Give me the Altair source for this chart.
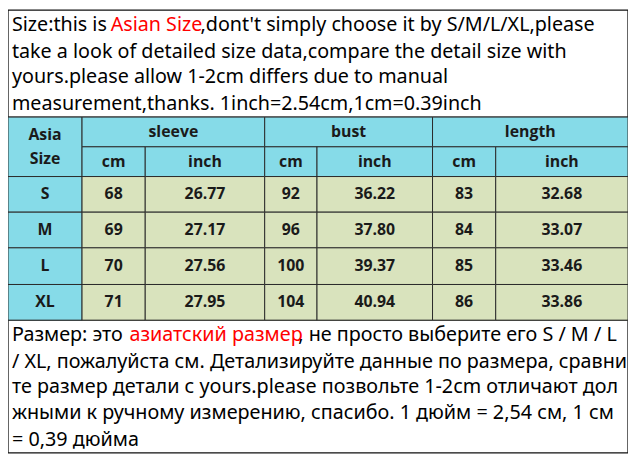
import altair as alt
import pandas as pd

# ---- data ----
sizes = ["S", "M", "L", "XL"]
sleeve_cm = ["68", "69", "70", "71"]
sleeve_inch = ["26.77", "27.17", "27.56", "27.95"]
bust_cm = ["92", "96", "100", "104"]
bust_inch = ["36.22", "37.80", "39.37", "40.94"]
length_cm = ["83", "84", "85", "86"]
length_inch = ["32.68", "33.07", "33.46", "33.86"]
groups = ["sleeve", "bust", "length"]
units = ["cm", "inch"]

top_lines = [
    [("Size:this is", "black"), ("Asian Size", "red"), (",dont't simply choose it by S/M/L/XL,please", "black")],
    [("take a look of detailed size data,compare the detail size with", "black")],
    [("yours.please allow 1-2cm differs due to manual", "black")],
    [("measurement,thanks. 1inch=2.54cm,1cm=0.39inch", "black")],
]
bottom_lines = [
    [("Размер: это", "black"), ("азиатский размер", "red"), (", не просто выберите его S / M / L", "black")],
    [("/ XL, пожалуйста см. Детализируйте данные по размера, сравни", "black")],
    [("те размер детали с yours.please позвольте 1-2cm отличают дол", "black")],
    [("жными к ручному измерению, спасибо. 1 дюйм = 2,54 см, 1 см", "black")],
    [("= 0,39 дюйма", "black")],
]

# ---- layout (reference pixel grid) ----
col_edges = [4, 79, 143, 264, 317, 434, 498, 632]
row_edges = [113, 143, 173, 209, 245, 282, 318]
top_box = (4, 5, 632, 113)
bottom_box = (4, 318, 632, 452)
top_line_y = [20, 47, 73, 100]
bottom_line_y = [333, 360, 386, 412, 439]
top_seg_x = [[8, 108, 199], [8], [8], [8]]
bottom_seg_x = [[8, 127, 298], [8], [8], [8], [8]]

CYAN = "#86dbe8"
GREEN = "#d9e3bd"

cells = []
texts = []
# Asia Size header
cells.append(dict(x=col_edges[0], x2=col_edges[1], y=row_edges[0], y2=row_edges[2], fill=CYAN))
texts.append(dict(x=(col_edges[0] + col_edges[1]) / 2, y=131, t="Asia"))
texts.append(dict(x=(col_edges[0] + col_edges[1]) / 2, y=155, t="Size"))
for g, name in enumerate(groups):
    a, b = col_edges[1 + 2 * g], col_edges[3 + 2 * g]
    cells.append(dict(x=a, x2=b, y=row_edges[0], y2=row_edges[1], fill=CYAN))
    texts.append(dict(x=(a + b) / 2, y=(row_edges[0] + row_edges[1]) / 2, t=name))
    for u, un in enumerate(units):
        c, d = col_edges[1 + 2 * g + u], col_edges[2 + 2 * g + u]
        cells.append(dict(x=c, x2=d, y=row_edges[1], y2=row_edges[2], fill=CYAN))
        texts.append(dict(x=(c + d) / 2, y=(row_edges[1] + row_edges[2]) / 2, t=un))
columns = [sizes, sleeve_cm, sleeve_inch, bust_cm, bust_inch, length_cm, length_inch]
for ci, col in enumerate(columns):
    for ri, val in enumerate(col):
        c, d = col_edges[ci], col_edges[ci + 1]
        e, f = row_edges[2 + ri], row_edges[3 + ri]
        cells.append(dict(x=c, x2=d, y=e, y2=f, fill=CYAN if ci == 0 else GREEN))
        texts.append(dict(x=(c + d) / 2, y=(e + f) / 2, t=val))

cells_df = pd.DataFrame(cells)
texts_df = pd.DataFrame(texts)

boxes_df = pd.DataFrame([
    dict(x=top_box[0], y=top_box[1], x2=top_box[2], y2=top_box[3]),
    dict(x=bottom_box[0], y=bottom_box[1], x2=bottom_box[2], y2=bottom_box[3]),
])

para = []
for lines, ys, xs, fs in ((top_lines, top_line_y, top_seg_x, 19.9), (bottom_lines, bottom_line_y, bottom_seg_x, 19.95)):
    for li, segs in enumerate(lines):
        for si, (t, col) in enumerate(segs):
            para.append(dict(x=xs[li][si], y=ys[li], t=t, c=col, fs=fs))
para_df = pd.DataFrame(para)

W, H = 626, 447
xs = alt.Scale(domain=[4, 632], range=[0, W], nice=False, zero=False)
ys = alt.Scale(domain=[5, 452], range=[0, H], nice=False, zero=False)
X = lambda f: alt.X(f, type="quantitative", scale=xs, axis=None)
Y = lambda f: alt.Y(f, type="quantitative", scale=ys, axis=None)

boxes = alt.Chart(boxes_df).mark_rect(fill="white", stroke="#111", strokeWidth=1.3).encode(
    x=X("x"), x2="x2", y=Y("y"), y2="y2")
grid = alt.Chart(cells_df).mark_rect(stroke="#2a2a2a", strokeWidth=1).encode(
    x=X("x"), x2="x2", y=Y("y"), y2="y2", fill=alt.Fill("fill:N", scale=None))
cell_text = alt.Chart(texts_df).mark_text(
    font="Open Sans", fontWeight="bold", fontSize=16, color="#1a1a1a", baseline="middle", align="center"
).encode(x=X("x"), y=Y("y"), text="t:N")
para_text = alt.Chart(para_df).mark_text(
    font="Noto Sans", align="left", baseline="middle"
).encode(x=X("x"), y=Y("y"), text="t:N", color=alt.Color("c:N", scale=None),
         size=alt.Size("fs:Q", scale=None))

chart = alt.layer(boxes, grid, cell_text, para_text).properties(
    width=W, height=H, padding=0, autosize=alt.AutoSizeParams(type="none")
).configure_view(stroke=None)

chart.save("out.html", embed_options={"renderer": "svg", "actions": False})
